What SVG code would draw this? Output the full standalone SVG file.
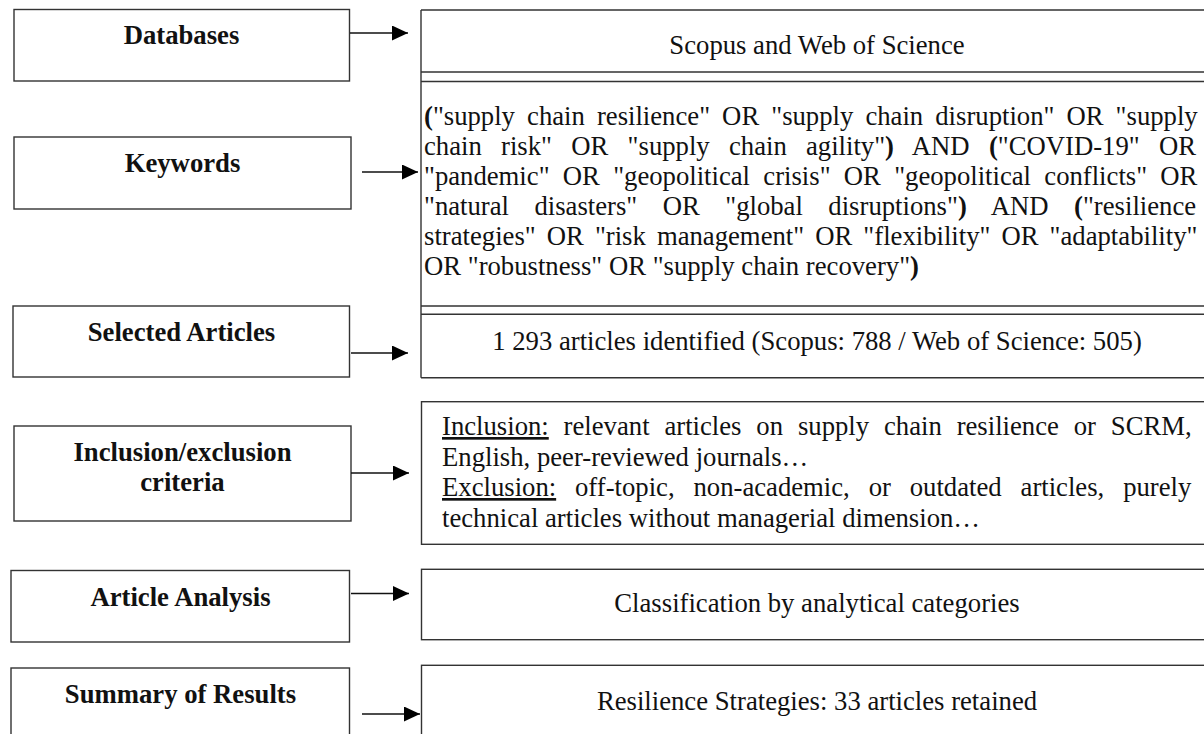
<svg xmlns="http://www.w3.org/2000/svg" width="1204" height="734" viewBox="0 0 1204 734">
<style>
.box{fill:#fff;stroke:#333;stroke-width:1.4}
.ln{fill:none;stroke:#333;stroke-width:1.4}
.con{fill:none;stroke:#111;stroke-width:1.4;marker-end:url(#ah)}
text{font-family:"Liberation Serif","Times New Roman",serif;font-size:26.7px;fill:#111}
.b{font-weight:bold}
.c{text-anchor:middle}
</style>
<defs>
<marker id="ah" markerUnits="userSpaceOnUse" markerWidth="16" markerHeight="15" refX="16" refY="7.5" orient="auto">
<path d="M0,0 L16,7.5 L0,15 z" fill="#000"/>
</marker>
</defs>
<rect width="1204" height="734" fill="#fff"/>

<g id="databases">
<rect class="box" x="14" y="9.5" width="335.5" height="71.5"/>
<text class="b c" x="181.5" y="44.3">Databases</text>
</g>
<g id="keywords">
<rect class="box" x="14" y="137" width="337" height="72"/>
<text class="b c" x="182.5" y="172.3">Keywords</text>
</g>
<g id="selected-articles">
<rect class="box" x="13" y="306" width="336.5" height="71"/>
<text class="b c" x="181.5" y="341">Selected Articles</text>
</g>
<g id="inclusion-exclusion">
<rect class="box" x="14" y="426" width="337" height="95"/>
<text class="b c" x="182.5" y="461">Inclusion/exclusion</text>
<text class="b c" x="182.5" y="491">criteria</text>
</g>
<g id="article-analysis">
<rect class="box" x="11" y="570.5" width="338.5" height="71.5"/>
<text class="b c" x="180.5" y="605.7">Article Analysis</text>
</g>
<g id="summary-results">
<rect class="box" x="11" y="668" width="338.5" height="90"/>
<text class="b c" x="180.5" y="702.7">Summary of Results</text>
</g>

<g id="table-search">
<path class="ln" d="M421,10 H1215 M421,72 H1215 M421,81.5 H1215 M421,306 H1215 M421,314.3 H1215 M421,377.7 H1215 M421,10 V377.7"/>
<text class="c" x="817" y="54.3">Scopus and Web of Science</text>
<text x="424" y="125" word-spacing="5.4"><tspan class="b">(</tspan>"supply chain resilience" OR "supply chain disruption" OR "supply</text>
<text x="424" y="155" word-spacing="12.6">chain risk" OR "supply chain agility"<tspan class="b">)</tspan> AND <tspan class="b">(</tspan>"COVID-19" OR</text>
<text x="424" y="185" word-spacing="6.6">"pandemic" OR "geopolitical crisis" OR "geopolitical conflicts" OR</text>
<text x="424" y="215" word-spacing="18.8">"natural disasters" OR "global disruptions"<tspan class="b">)</tspan> AND <tspan class="b">(</tspan>"resilience</text>
<text x="424" y="245" word-spacing="4.4">strategies" OR "risk management" OR "flexibility" OR "adaptability"</text>
<text x="424" y="275">OR "robustness" OR "supply chain recovery"<tspan class="b">)</tspan></text>
<text class="c" x="817" y="350">1 293 articles identified (Scopus: 788 / Web of Science: 505)</text>
</g>

<g id="criteria-box">
<rect class="box" x="421.5" y="401.7" width="800" height="142.6"/>
<text x="442" y="435" word-spacing="8.2"><tspan text-decoration="underline">Inclusion:</tspan> relevant articles on supply chain resilience or SCRM,</text>
<text x="442" y="465.5">English, peer-reviewed journals…</text>
<text x="442" y="496" word-spacing="12.2"><tspan text-decoration="underline">Exclusion:</tspan> off-topic, non-academic, or outdated articles, purely</text>
<text x="442" y="526.5">technical articles without managerial dimension…</text>
</g>
<g id="classification-box">
<rect class="box" x="421.5" y="569.3" width="800" height="70.4"/>
<text class="c" x="817" y="612">Classification by analytical categories</text>
</g>
<g id="results-box">
<rect class="box" x="421.5" y="665.3" width="800" height="90"/>
<text class="c" x="817" y="710">Resilience Strategies: 33 articles retained</text>
</g>

<g id="connectors">
<line class="con" x1="350" y1="33" x2="408" y2="33"/>
<line class="con" x1="362" y1="172" x2="418" y2="172"/>
<line class="con" x1="351" y1="353" x2="408" y2="353"/>
<line class="con" x1="351" y1="473" x2="409" y2="473"/>
<line class="con" x1="351" y1="593.5" x2="409" y2="593.5"/>
<line class="con" x1="362" y1="714" x2="420" y2="714"/>
</g>
</svg>
